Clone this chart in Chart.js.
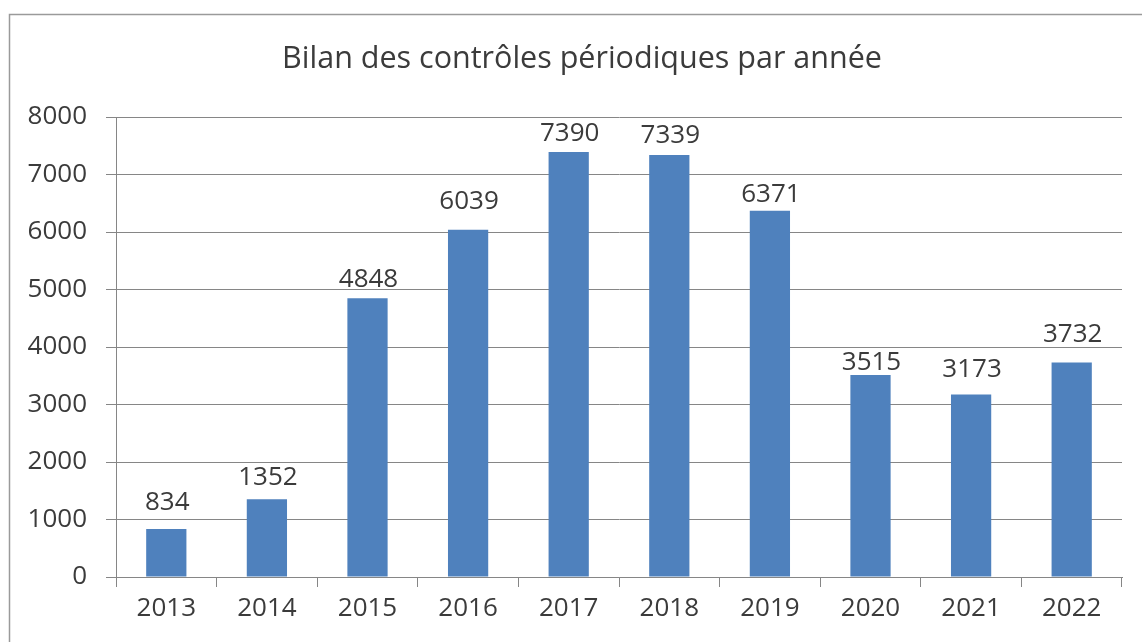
<!DOCTYPE html>
<html>
<head>
<meta charset="utf-8">
<script src="https://cdn.jsdelivr.net/npm/chart.js@4"></script>
<style>
html,body{margin:0;padding:0;background:#fff;}
canvas{display:block;}
</style>
</head>
<body>
<canvas id="c" width="1142" height="642"></canvas>
<script>
const years = ['2013','2014','2015','2016','2017','2018','2019','2020','2021','2022'];
const controles = [834, 1352, 4848, 6039, 7390, 7339, 6371, 3515, 3173, 3732];
const yTicks = [0,1000,2000,3000,4000,5000,6000,7000,8000];
const titleText = 'Bilan des contrôles périodiques par année';
// gap (px) between each value label and the top of its bar, as placed in the original
const labelGaps = [19, 14, 11, 21, 11, 12, 9, 5, 18, 20];

const textColor = '#3b3b3b';
const gridColor = '#868686';
const fontFamily = '"Open Sans", "Liberation Sans", sans-serif';

const frame = {
  id: 'frame',
  beforeDraw(chart) {
    const ctx = chart.ctx;
    ctx.save();
    ctx.fillStyle = '#fff';
    ctx.fillRect(0, 0, chart.width, chart.height);
    ctx.strokeStyle = '#9a9a9a';
    ctx.lineWidth = 1.5;
    ctx.strokeRect(9.5, 14.5, chart.width + 20, chart.height + 20);
    ctx.fillStyle = textColor;
    ctx.font = '30.5px ' + fontFamily;
    ctx.textAlign = 'center';
    ctx.textBaseline = 'middle';
    ctx.fillText(titleText, 582, 59);
    ctx.restore();
  }
};

const valueLabels = {
  id: 'valueLabels',
  afterDatasetsDraw(chart) {
    const ctx = chart.ctx;
    ctx.save();
    ctx.fillStyle = textColor;
    ctx.font = '26px ' + fontFamily;
    ctx.textAlign = 'center';
    ctx.textBaseline = 'alphabetic';
    chart.getDatasetMeta(0).data.forEach((el, i) => {
      ctx.fillText(String(chart.data.datasets[0].data[i]), el.x + 1, el.y - labelGaps[i]);
    });
    ctx.restore();
  }
};

new Chart(document.getElementById('c'), {
  type: 'bar',
  data: {
    labels: years,
    datasets: [{
      data: controles,
      backgroundColor: '#4F81BD',
      borderWidth: 0,
      barPercentage: 0.4,
      categoryPercentage: 1.0
    }]
  },
  options: {
    responsive: false,
    animation: false,
    devicePixelRatio: 1,
    layout: { padding: { left: 9, right: 20, top: 117, bottom: 0 } },
    plugins: {
      legend: { display: false },
      tooltip: { enabled: false },
      title: { display: false }
    },
    scales: {
      x: {
        grid: { display: true, offset: true, drawOnChartArea: false, drawTicks: true, tickLength: 10, color: gridColor, lineWidth: 1 },
        border: { display: true, color: gridColor, width: 1 },
        ticks: { color: textColor, font: { family: fontFamily, size: 26 }, padding: 6, maxRotation: 0 },
        afterFit(scale) { scale.height = 65; }
      },
      y: {
        min: 0,
        max: 8000,
        afterBuildTicks(scale) { scale.ticks = yTicks.map(v => ({ value: v })); },
        grid: { display: true, drawTicks: true, tickLength: 10, color: gridColor, lineWidth: 1 },
        border: { display: true, color: gridColor, width: 1 },
        ticks: { color: textColor, font: { family: fontFamily, size: 26 }, padding: 19, callback: (v) => String(v) },
        afterFit(scale) { scale.width = 107; }
      }
    }
  },
  plugins: [frame, valueLabels]
});
</script>
</body>
</html>
